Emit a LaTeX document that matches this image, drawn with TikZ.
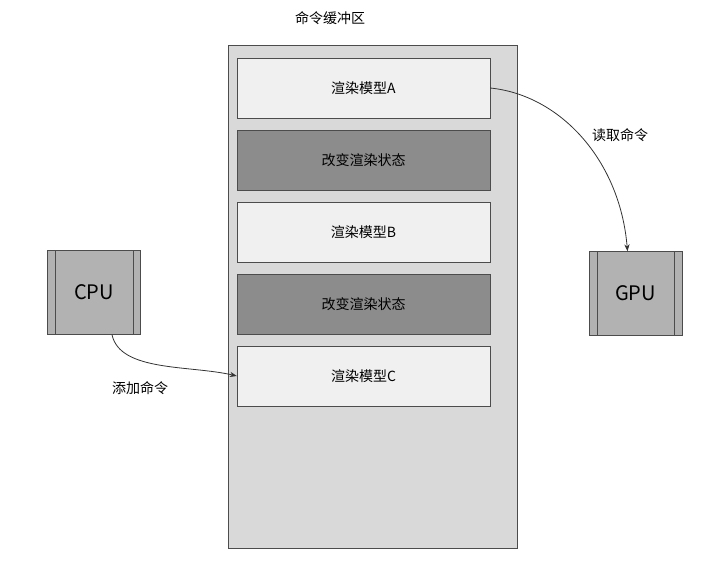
\documentclass[tikz,border=0pt]{standalone}
\usepackage{fontspec}
\setmainfont{Noto Sans CJK SC}
\usetikzlibrary{positioning,arrows.meta}

\tikzset{
  cmd/.style={draw=black!70,fill=black!6,minimum width=253pt,minimum height=60pt,font=\fontsize{14}{16}\selectfont},
  state/.style={cmd,fill=black!45},
  unit/.style={draw=black!70,fill=black!30,minimum width=93pt,minimum height=84pt,font=\fontsize{20}{24}\selectfont},
  feed/.style={-{Stealth[length=7pt]},black!80,thick},
  tag/.style={font=\fontsize{14}{16}\selectfont}
}

\begin{document}
\begin{tikzpicture}[x=1pt,y=-1pt]
  \useasboundingbox (0,0) rectangle (728,562);
  % buffer
  \node[draw=black!70,fill=black!15,minimum width=289pt,minimum height=503pt] (buf) at (372.5,296.5) {};
  \node[tag] (title) at (330,18) {命令缓冲区};
  \node[cmd]   (a)  at (363.5,88)  {渲染模型A};
  \node[state] (s1) at (363.5,160) {改变渲染状态};
  \node[cmd]   (b)  at (363.5,232) {渲染模型B};
  \node[state] (s2) at (363.5,304) {改变渲染状态};
  \node[cmd]   (c)  at (363.5,376) {渲染模型C};
  % processors
  \node[unit] (cpu) at (94,292.5) {CPU};
  \node[unit] (gpu) at (635.5,293.5) {GPU};
  \foreach \u in {cpu,gpu} {
    \draw[black!70] ([xshift=8pt]\u.north west) -- ([xshift=8pt]\u.south west);
    \draw[black!70] ([xshift=-8pt]\u.north east) -- ([xshift=-8pt]\u.south east);
  }
  % commands
  \draw[feed] ([xshift=18pt]cpu.south) .. controls (120,372) and (190,365) .. (c.west);
  \node[tag] (add) at (140,388) {添加命令};
  \draw[feed] (a.east) .. controls (560,95) and (620,160) .. ([xshift=-8pt]gpu.north);
  \node[tag] (read) at (620,135) {读取命令};
\end{tikzpicture}
\end{document}
